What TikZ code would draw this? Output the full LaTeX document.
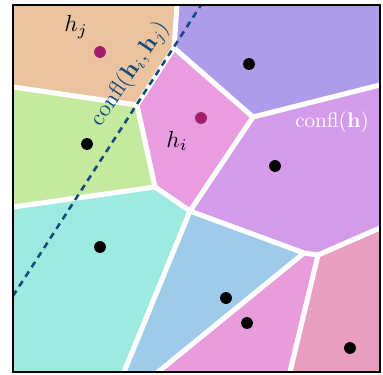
\documentclass[tikz,border=0pt]{standalone}
\usepackage{amsmath}
\usepackage{xcolor}
\usepackage{tikz}
\usetikzlibrary{arrows.meta,positioning}
\definecolor{peach}{HTML}{EBC39E}
\definecolor{violet}{HTML}{AE9CEA}
\definecolor{lime}{HTML}{C6E9A0}
\definecolor{orchid}{HTML}{E99DE0}
\definecolor{lilac}{HTML}{D49BEA}
\definecolor{aqua}{HTML}{9DEAE0}
\definecolor{sky}{HTML}{9FCBEA}
\definecolor{blush}{HTML}{E99CDC}
\definecolor{rose}{HTML}{E99DC0}
\definecolor{plum}{HTML}{A21F6B}
\definecolor{navy}{HTML}{0F4C7C}

\begin{document}
\begin{tikzpicture}[
  x=0.0166cm, y=-0.0166cm,
  border/.style={white, line width=2.4pt, line cap=round, line join=round},
  site/.style={circle, fill=black, inner sep=0pt, minimum size=5.6pt},
  query/.style={site, fill=plum},
  cut/.style={navy, line width=1.2pt, dash pattern=on 3pt off 2.4pt},
  lbl/.style={inner sep=0pt, font=\normalsize}
]
  \useasboundingbox (0,0) rectangle (383,374);
  % Voronoi vertices
  \coordinate (nw) at (13,5);
  \coordinate (ne) at (380,5);
  \coordinate (se) at (380,372);
  \coordinate (sw) at (13,372);
  \coordinate (a) at (177,5);
  \coordinate (b) at (174,48);
  \coordinate (c) at (137,105);
  \coordinate (d) at (155,187);
  \coordinate (e) at (190,211);
  \coordinate (f) at (253,117);
  \coordinate (g) at (304,253);
  \coordinate (h) at (318,255);
  \coordinate (l1) at (13,87);
  \coordinate (l2) at (13,207);
  \coordinate (r1) at (380,85);
  \coordinate (r2) at (380,228);
  \coordinate (b1) at (124,372);
  \coordinate (b2) at (158,372);
  \coordinate (b3) at (290,372);
  % cells
  \fill[peach] (nw) -- (a) -- (b) -- (c) -- (l1) -- cycle;
  \fill[violet] (a) -- (ne) -- (r1) -- (f) -- (b) -- cycle;
  \fill[lime] (l1) -- (c) -- (d) -- (l2) -- cycle;
  \fill[orchid] (b) -- (f) -- (e) -- (d) -- (c) -- cycle;
  \fill[lilac] (f) -- (r1) -- (r2) -- (h) -- (g) -- (e) -- cycle;
  \fill[aqua] (l2) -- (d) -- (e) -- (b1) -- (sw) -- cycle;
  \fill[sky] (e) -- (g) -- (b2) -- (b1) -- cycle;
  \fill[blush] (g) -- (h) -- (b3) -- (b2) -- cycle;
  \fill[rose] (h) -- (r2) -- (se) -- (b3) -- cycle;
  % cell borders
  \draw[border] (a) -- (b) -- (c) -- (l1);
  \draw[border] (c) -- (d) -- (l2);
  \draw[border] (b) -- (f) -- (r1);
  \draw[border] (f) -- (e) -- (d);
  \draw[border] (e) -- (g) -- (h) -- (r2);
  \draw[border] (e) -- (b1);
  \draw[border] (g) -- (b2);
  \draw[border] (h) -- (b3);
  % conflict line
  \coordinate (cutlo) at (13,296);
  \coordinate (cuthi) at (201,5);
  \draw[cut] (cutlo) -- (cuthi);
  % sites
  \node[query] (hj) at (100,52) {};
  \node[query] (hi) at (201,118) {};
  \node[site] (s1) at (87,144) {};
  \node[site] (s2) at (249,64) {};
  \node[site] (s3) at (275,166) {};
  \node[site] (s4) at (100,247) {};
  \node[site] (s5) at (226,298) {};
  \node[site] (s6) at (247,323) {};
  \node[site] (s7) at (350,348) {};
  % labels
  \node[lbl, scale=1.1] (hjlabel) at (76,27) {$h_j$};
  \node[lbl, scale=1.1] (hilabel) at (177,141) {$h_i$};
  \node[lbl, text=white] (conflh) at (332,122) {$\mathrm{confl}(\mathbf{h})$};
  \node[lbl, text=navy, rotate=56, scale=1.08] (confllabel) at (130,74)
    {$\mathrm{confl}(\mathbf{h}_i, \mathbf{h}_j)$};
  % frame
  \draw[black, line width=0.5pt] (nw) rectangle (se);
\end{tikzpicture}
\end{document}
